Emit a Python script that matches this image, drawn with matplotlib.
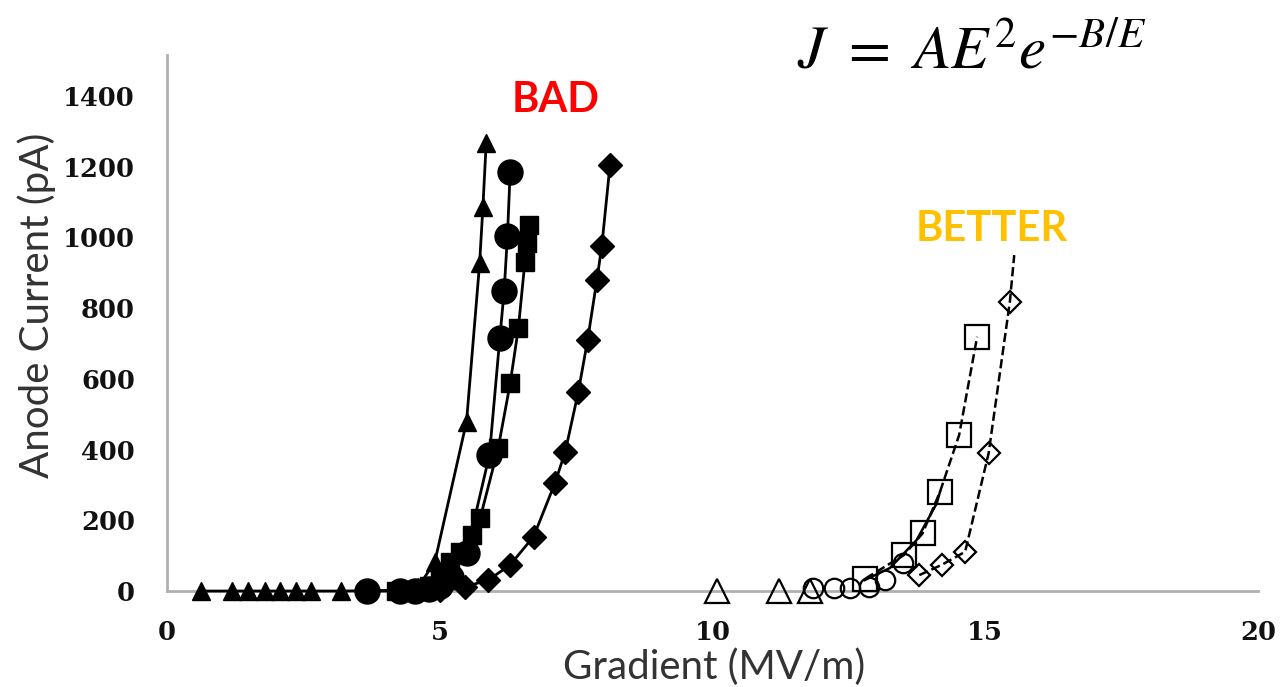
import numpy as np
import matplotlib
matplotlib.use('Agg')
from matplotlib import pyplot as plt

# filled (BAD) series
tri_x = [0.62, 1.19, 1.49, 1.80, 2.07, 2.36, 2.64, 3.19, 4.3, 4.6, 4.91, 5.49, 5.73, 5.79, 5.85]
tri_y = [0, 0, 0, 0, 0, 0, 0, 0, 2, 10, 83, 479, 927, 1085, 1266]

circ_x = [3.66, 4.27, 4.55, 4.8, 5.0, 5.2, 5.49, 5.91, 6.10, 6.18, 6.24, 6.29]
circ_y = [0, 0, 0, 5, 15, 40, 107, 385, 715, 849, 1005, 1186]

sq_x = [4.2, 4.5, 4.8, 5.0, 5.19, 5.37, 5.59, 5.74, 6.07, 6.29, 6.44, 6.56, 6.59, 6.64]
sq_y = [0, 3, 15, 40, 83, 111, 158, 206, 404, 587, 743, 931, 983, 1035]

dia_x = [4.6, 5.0, 5.46, 5.89, 6.29, 6.72, 7.11, 7.30, 7.54, 7.71, 7.88, 7.97, 8.12]
dia_y = [0, 2, 12, 31, 74, 154, 305, 394, 564, 710, 880, 976, 1205]

# open (BETTER) series
otri_x = [10.08, 11.21, 11.79]
otri_y = [0, 0, 0]

ocirc_x = [11.85, 12.22, 12.52, 12.86, 13.16, 13.50]
ocirc_y = [8, 8, 8, 12, 31, 78]

osq_x = [12.80, 13.51, 13.85, 14.17, 14.52, 14.85]
osq_y = [35, 102, 163, 281, 441, 719]

odia_x = [13.79, 14.20, 14.63, 15.06, 15.45]
odia_y = [45, 74, 111, 389, 818]

# trend lines
ocirc_fit_x = [12.79, 13.25, 13.74, 14.11, 14.17]
ocirc_fit_y = [31, 65, 144, 248, 281]
odia_fit_x = [15.45, 15.53]
odia_fit_y = [818, 950]

x_ticks = [0, 5, 10, 15, 20]
y_ticks = [0, 200, 400, 600, 800, 1000, 1200, 1400]

plt.rcParams['mathtext.fontset'] = 'stix'

fig = plt.figure(figsize=(12.81, 6.87), dpi=100)
ax = fig.add_axes([0.1304, 0.1397, 0.8517, 0.7803])

kw = dict(color='black', clip_on=False, zorder=3)
ax.plot(tri_x, tri_y, '-^', lw=2, ms=13, **kw)
ax.plot(circ_x, circ_y, '-o', lw=2, ms=18, **kw)
ax.plot(sq_x, sq_y, '-s', lw=2, ms=13, **kw)
ax.plot(dia_x, dia_y, '-D', lw=2, ms=12, **kw)

ax.plot(ocirc_fit_x, ocirc_fit_y, '-', color='black', lw=1.8, zorder=2)
ax.plot(osq_x, osq_y, '--', color='black', lw=1.8, zorder=2)
ax.plot(odia_x + odia_fit_x[1:], odia_y + odia_fit_y[1:], '--', color='black', lw=1.8, zorder=2)

okw = dict(mfc='none', mec='black', mew=1.6, ls='none', clip_on=False, zorder=3)
ax.plot(otri_x, otri_y, '^', ms=17, **okw)
ax.plot(ocirc_x, ocirc_y, 'o', ms=14, **okw)
ax.plot(osq_x, osq_y, 's', ms=17, **okw)
ax.plot(odia_x, odia_y, 'D', ms=11, **okw)

ax.set_xlim(0, 20)
ax.set_ylim(0, 1516)
ax.set_xticks(x_ticks)
ax.set_yticks(y_ticks)
ax.tick_params(length=0)
ax.tick_params(axis='x', pad=21)
ax.tick_params(axis='y', pad=23)
for lab in ax.get_xticklabels() + ax.get_yticklabels():
    lab.set_fontfamily('DejaVu Serif')
    lab.set_fontweight('bold')
    lab.set_fontsize(18.5)
    lab.set_color('#111111')

for s in ['top', 'right']:
    ax.spines[s].set_visible(False)
for s in ['left', 'bottom']:
    ax.spines[s].set_color('#b0b0b0')
    ax.spines[s].set_linewidth(2)
    ax.spines[s].set_zorder(1)

fig.text(714 / 1281, 1 - 667 / 687, 'Gradient (MV/m)', family='Lato', fontsize=29,
         ha='center', va='center', color='#333333')
fig.text(37 / 1281, 1 - 305 / 687, 'Anode Current (pA)', family='Lato', fontsize=29,
         ha='center', va='center', rotation=90, color='#333333')

fig.text(556 / 1281, 1 - 100 / 687, 'BAD', family='Lato', fontweight='bold', fontsize=30,
         ha='center', va='center', color='#ff0000')
fig.text(992 / 1281, 1 - 229 / 687, 'BETTER', family='Lato', fontweight='bold', fontsize=30,
         ha='center', va='center', color='#ffc000')

fig.text(972 / 1281, 1 - 52 / 687, r'$J\ =\ AE^{2}e^{-B/E}$', fontsize=44,
         ha='center', va='center', color='black')

fig.savefig('out.png', dpi=100, facecolor='white')
